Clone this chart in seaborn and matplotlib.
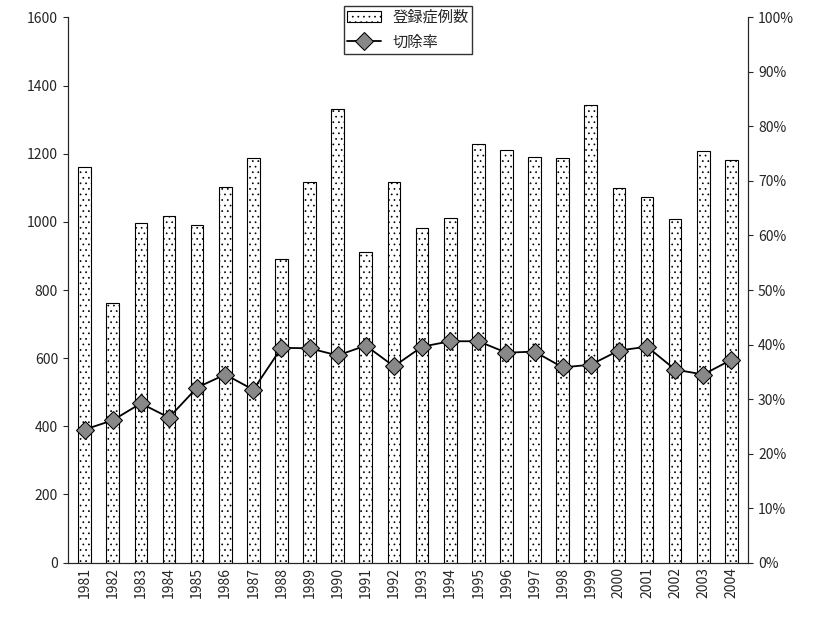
import numpy as np
import pandas as pd
import matplotlib
matplotlib.use("Agg")
import matplotlib.pyplot as plt
import seaborn as sns
from matplotlib.ticker import FuncFormatter

years = [str(y) for y in range(1981, 2005)]
cases = [1162, 762, 997, 1018, 991, 1103, 1188, 891, 1118, 1332, 912, 1118,
         982, 1012, 1229, 1212, 1191, 1188, 1344, 1100, 1074, 1009, 1209, 1182]
rate = [24.4, 26.1, 29.2, 26.6, 32.1, 34.5, 31.7, 39.4, 39.3, 38.0, 39.8, 36.0,
        39.6, 40.6, 40.6, 38.5, 38.7, 35.8, 36.3, 38.9, 39.6, 35.4, 34.5, 37.2]

sns.set_style("ticks")
plt.rcParams['font.family'] = ['Noto Sans CJK JP', 'DejaVu Sans']
plt.rcParams['hatch.color'] = '#aaaaaa'
plt.rcParams['hatch.linewidth'] = 0.5

df = pd.DataFrame({"year": years, "cases": cases, "rate": rate})

fig, ax = plt.subplots(figsize=(8.16, 6.23), dpi=100)
fig.subplots_adjust(left=0.083, right=0.917, top=0.972, bottom=0.097)
sns.barplot(data=df, x="year", y="cases", ax=ax, color="white",
            edgecolor="black", linewidth=0.8, width=0.45, label="登録症例数")
for p in ax.patches:
    p.set_hatch("...")
if ax.get_legend():
    ax.get_legend().remove()
ax.set_ylim(0, 1600)
ax.set_yticks(range(0, 1601, 200))
ax.set_xlim(-0.6, len(years) - 0.4)
ax.set_xlabel("")
ax.set_ylabel("")
ax.tick_params(axis="x", rotation=90, direction="in")
ax.tick_params(axis="y", direction="out")

ax2 = ax.twinx()
sns.lineplot(x=np.arange(len(years)), y=df["rate"], ax=ax2, color="black",
             marker="D", markersize=9, markerfacecolor="#888888",
             markeredgecolor="black", linewidth=1.3, label="切除率")
ax2.set_ylim(0, 100)
ax2.set_yticks(range(0, 101, 10))
ax2.yaxis.set_major_formatter(FuncFormatter(lambda v, _: f"{int(v)}%"))
ax2.set_ylabel("")
ax2.get_legend().remove()

for a in (ax, ax2):
    a.spines["top"].set_visible(False)
    for s in a.spines.values():
        s.set_linewidth(0.8)

h1, l1 = ax.get_legend_handles_labels()
h2, l2 = ax2.get_legend_handles_labels()
ax2.legend(h1 + h2, l1 + l2, loc="upper center", bbox_to_anchor=(0.5, 1.035),
           frameon=True, fancybox=False, edgecolor="black", fontsize=11,
           borderpad=0.2, handlelength=2.2)

fig.savefig("out.png", dpi=100)
